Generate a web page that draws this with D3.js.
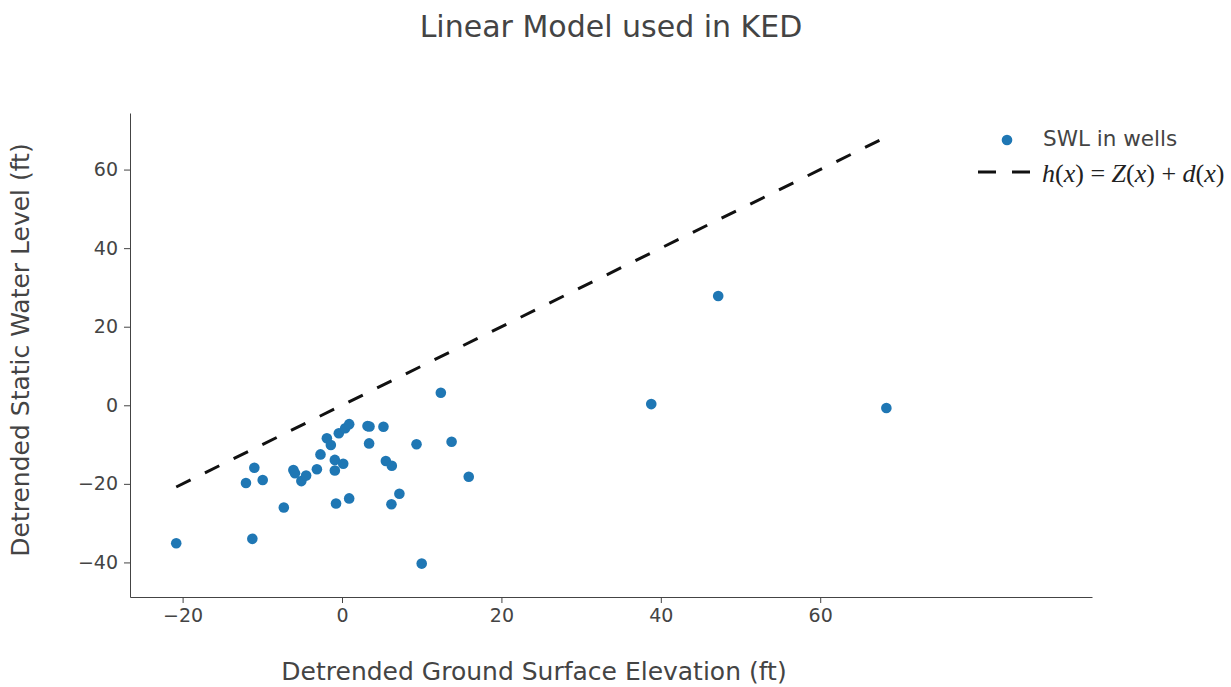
<!DOCTYPE html>
<html>
<head>
<meta charset="utf-8">
<script src="https://cdn.jsdelivr.net/npm/d3@7"></script>
<style>
body { margin: 0; background: #fff; }
text { font-family: "DejaVu Sans", Verdana, sans-serif; fill: #444; }
</style>
</head>
<body>
<svg id="svg" width="1231" height="687"></svg>
<script>
// SWL in wells (detrended ground surface elevation vs detrended static water level)
var wellX = [-20.8, -11.25, -12.05, -11.0, -9.95, -7.3, -6.1, -5.9, -5.1, -4.5, -3.15, -2.7, -1.9, -1.4,
	-0.9, -0.9, 0.15, -0.75, -0.4, 0.4, 0.9, 0.9, 3.2, 3.45, 3.4, 5.2, 5.5, 6.25, 6.2, 7.2, 9.35, 10.0,
	12.4, 13.75, 15.9, 38.8, 47.2, 68.3];
var wellY = [-35.1, -34.0, -19.8, -15.9, -19.0, -26.0, -16.5, -17.3, -19.3, -17.9, -16.3, -12.5, -8.4, -10.1,
	-13.9, -16.6, -14.9, -25.0, -7.1, -5.85, -4.8, -23.7, -5.3, -5.4, -9.7, -5.45, -14.2, -15.4, -25.2, -22.5,
	-9.9, -40.3, 3.2, -9.3, -18.2, 0.3, 27.8, -0.7];

// h(x) = Z(x) + d(x)
var lineX = [-20.8, 68.3];
var lineY = [-20.8, 68.3];

var xTicks = [-20, 0, 20, 40, 60];
var yTicks = [-40, -20, 0, 20, 40, 60];

var svg = d3.select("#svg");

var scaleX = d3.scaleLinear().domain([-26.6, 94.1]).range([130, 1092]);
var scaleY = d3.scaleLinear().domain([-48.8, 74.4]).range([597, 113]);

// Axes
var gAxisX = svg.append("g").attr("transform", "translate(0,597)")
	.call(d3.axisBottom(scaleX).tickValues(xTicks).tickSize(6).tickSizeOuter(0).tickPadding(6));
var gAxisY = svg.append("g").attr("transform", "translate(130,0)")
	.call(d3.axisLeft(scaleY).tickValues(yTicks).tickSize(6).tickSizeOuter(0).tickPadding(6));
[gAxisX, gAxisY].forEach(function(g) {
	g.selectAll("path, line").attr("stroke", "#444");
	g.selectAll("text").style("font-size", "19px").attr("fill", "#444");
});

// Model line
var lineData = lineX.map(function(d, i) { return [d, lineY[i]]; });
svg.append("path")
	.datum(lineData)
	.attr("d", d3.line().x(function(d) { return scaleX(d[0]); }).y(function(d) { return scaleY(d[1]); }))
	.attr("fill", "none")
	.attr("stroke", "#111")
	.attr("stroke-width", 3)
	.attr("stroke-dasharray", "16,16");

// Points
svg.selectAll("circle.pt")
	.data(wellX)
	.enter()
	.append("circle")
	.attr("class", "pt")
	.attr("cx", function(d) { return scaleX(d); })
	.attr("cy", function(d, i) { return scaleY(wellY[i]); })
	.attr("r", 5.3)
	.attr("fill", "#1f77b4");

// Title
svg.append("text")
	.attr("x", 611).attr("y", 37)
	.attr("text-anchor", "middle")
	.style("font-size", "30px")
	.text("Linear Model used in KED");

// Axis labels
svg.append("text")
	.attr("x", 534).attr("y", 680)
	.attr("text-anchor", "middle")
	.style("font-size", "25px")
	.text("Detrended Ground Surface Elevation (ft)");

svg.append("text")
	.attr("transform", "translate(29,350) rotate(-90)")
	.attr("text-anchor", "middle")
	.style("font-size", "25px")
	.text("Detrended Static Water Level (ft)");

// Legend
svg.append("circle").attr("cx", 1007).attr("cy", 140).attr("r", 5.3).attr("fill", "#1f77b4");
svg.append("text").attr("x", 1043).attr("y", 146).style("font-size", "21.5px").text("SWL in wells");

svg.append("line")
	.attr("x1", 978).attr("x2", 1030).attr("y1", 172).attr("y2", 172)
	.attr("stroke", "#111").attr("stroke-width", 3).attr("stroke-dasharray", "18,16");

var math = svg.append("text").attr("x", 1042).attr("y", 182)
	.style("font-family", "'Liberation Serif', 'DejaVu Serif', serif")
	.style("font-size", "26px").attr("fill", "#222");
var parts = [["h", 1], ["(", 0], ["x", 1], [")", 0], [" = ", 0], ["Z", 1], ["(", 0], ["x", 1], [")", 0],
	[" + ", 0], ["d", 1], ["(", 0], ["x", 1], [")", 0]];
parts.forEach(function(p) {
	math.append("tspan").attr("font-style", p[1] ? "italic" : "normal").style("fill", "#222").text(p[0]);
});
</script>
</body>
</html>
